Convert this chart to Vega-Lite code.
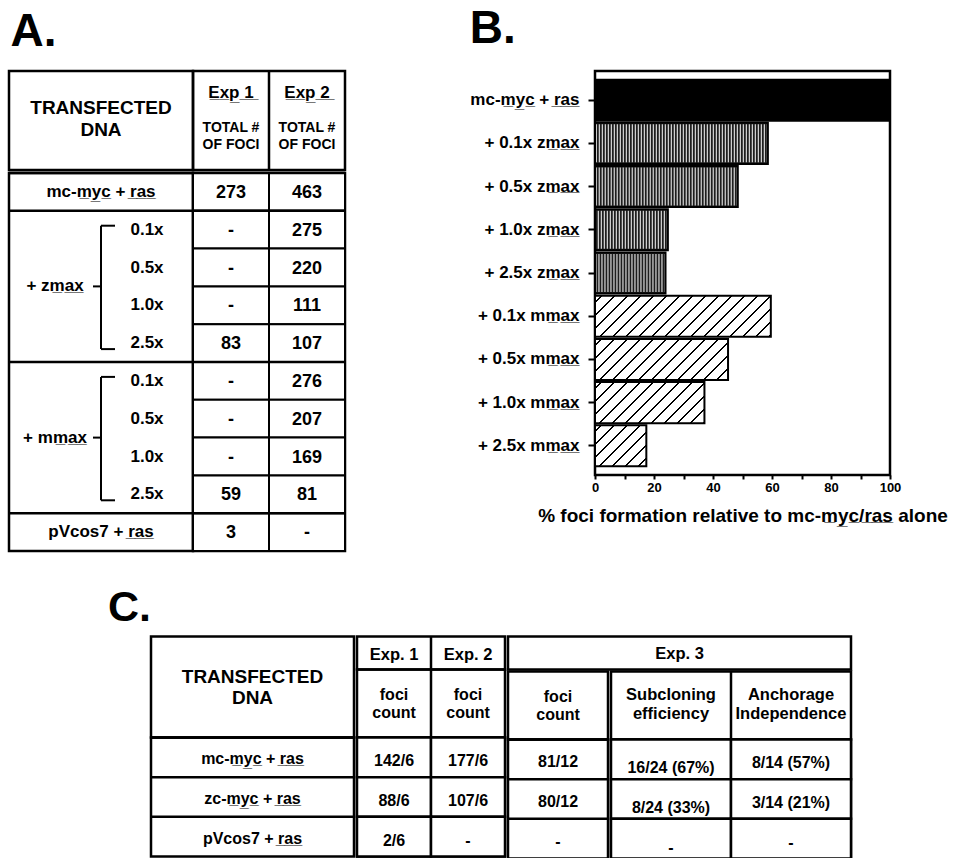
{
 "$schema": "https://vega.github.io/schema/vega-lite/v6.json",
 "background": "white",
 "padding": {"left": 6, "top": 4, "right": 0, "bottom": 0},
 "config": {
  "font": "Liberation Sans",
  "view": {"stroke": "black", "strokeWidth": 2.5},
  "text": {"font": "Liberation Sans", "fontWeight": "bold", "fill": "black", "baseline": "middle"},
  "rule": {"stroke": "black"},
  "title": {"font": "Liberation Sans", "fontWeight": "bold", "anchor": "start", "color": "black", "baseline": "alphabetic"},
  "axis": {"labelFont": "Liberation Sans", "titleFont": "Liberation Sans", "labelColor": "black", "titleColor": "black", "tickColor": "black"}
 },
 "datasets": {
  "panelA": [
   {"row": "mc-myc + ras", "construct": "mc-myc", "label": "mc-m\u0332y\u0332c\u0332 + r\u0332a\u0332s\u0332", "dose": null, "Exp 1": "273", "Exp 2": "463"},
   {"row": "zmax 0.1x", "construct": "zmax", "label": null, "dose": "0.1x", "Exp 1": "-", "Exp 2": "275"},
   {"row": "zmax 0.5x", "construct": "zmax", "label": null, "dose": "0.5x", "Exp 1": "-", "Exp 2": "220"},
   {"row": "zmax 1.0x", "construct": "zmax", "label": null, "dose": "1.0x", "Exp 1": "-", "Exp 2": "111"},
   {"row": "zmax 2.5x", "construct": "zmax", "label": null, "dose": "2.5x", "Exp 1": "83", "Exp 2": "107"},
   {"row": "mmax 0.1x", "construct": "mmax", "label": null, "dose": "0.1x", "Exp 1": "-", "Exp 2": "276"},
   {"row": "mmax 0.5x", "construct": "mmax", "label": null, "dose": "0.5x", "Exp 1": "-", "Exp 2": "207"},
   {"row": "mmax 1.0x", "construct": "mmax", "label": null, "dose": "1.0x", "Exp 1": "-", "Exp 2": "169"},
   {"row": "mmax 2.5x", "construct": "mmax", "label": null, "dose": "2.5x", "Exp 1": "59", "Exp 2": "81"},
   {"row": "pVcos7 + ras", "construct": "pVcos7", "label": "pVcos7 + r\u0332a\u0332s\u0332", "dose": null, "Exp 1": "3", "Exp 2": "-"}
  ],
  "groupsA": [
   {"construct": "zmax", "label": "+ zm\u0332a\u0332x\u0332", "first": "zmax 0.1x", "middle": "zmax 1.0x", "last": "zmax 2.5x"},
   {"construct": "mmax", "label": "+ mm\u0332a\u0332x\u0332", "first": "mmax 0.1x", "middle": "mmax 1.0x", "last": "mmax 2.5x"}
  ],
  "headA": [
   {"exp": "Exp 1", "title": "E\u0332x\u0332p\u0332 \u03321\u0332", "measure": "TOTAL #\nOF FOCI"},
   {"exp": "Exp 2", "title": "E\u0332x\u0332p\u0332 \u03322\u0332", "measure": "TOTAL #\nOF FOCI"}
  ],
  "relativeB": [
   {"treatment": "mc-myc + ras", "label": "mc-m\u0332y\u0332c\u0332 + r\u0332a\u0332s\u0332", "inhibitor": "none", "percent": 100},
   {"treatment": "+ 0.1x zmax", "label": "+ 0.1x zm\u0332a\u0332x\u0332", "inhibitor": "zmax", "percent": 58.6},
   {"treatment": "+ 0.5x zmax", "label": "+ 0.5x zm\u0332a\u0332x\u0332", "inhibitor": "zmax", "percent": 48.4},
   {"treatment": "+ 1.0x zmax", "label": "+ 1.0x zm\u0332a\u0332x\u0332", "inhibitor": "zmax", "percent": 24.7},
   {"treatment": "+ 2.5x zmax", "label": "+ 2.5x zm\u0332a\u0332x\u0332", "inhibitor": "zmax", "percent": 23.9},
   {"treatment": "+ 0.1x mmax", "label": "+ 0.1x mm\u0332a\u0332x\u0332", "inhibitor": "mmax", "percent": 59.6},
   {"treatment": "+ 0.5x mmax", "label": "+ 0.5x mm\u0332a\u0332x\u0332", "inhibitor": "mmax", "percent": 45.1},
   {"treatment": "+ 1.0x mmax", "label": "+ 1.0x mm\u0332a\u0332x\u0332", "inhibitor": "mmax", "percent": 37.1},
   {"treatment": "+ 2.5x mmax", "label": "+ 2.5x mm\u0332a\u0332x\u0332", "inhibitor": "mmax", "percent": 17.4}
  ],
  "panelC": [
   {"construct": "mc-myc + ras", "label": "mc-m\u0332y\u0332c\u0332 + r\u0332a\u0332s\u0332", "exp1": "142/6", "exp2": "177/6", "exp3": "81/12", "subcloning": "16/24 (67%)", "anchorage": "8/14 (57%)"},
   {"construct": "zc-myc + ras", "label": "zc-m\u0332y\u0332c\u0332 + r\u0332a\u0332s\u0332", "exp1": "88/6", "exp2": "107/6", "exp3": "80/12", "subcloning": "8/24 (33%)", "anchorage": "3/14 (21%)"},
   {"construct": "pVcos7 + ras", "label": "pVcos7 + r\u0332a\u0332s\u0332", "exp1": "2/6", "exp2": "-", "exp3": "-", "subcloning": "-", "anchorage": "-"}
  ],
  "headC12": [
   {"exp": "exp1", "title": "Exp. 1", "measure": "foci\ncount"},
   {"exp": "exp2", "title": "Exp. 2", "measure": "foci\ncount"}
  ],
  "headCsa": [
   {"col": "subcloning", "head": "Subcloning\nefficiency"},
   {"col": "anchorage", "head": "Anchorage\nIndependence"}
  ]
 },
 "vconcat": [
  {
   "align": "none",
   "spacing": 120,
   "hconcat": [
    {
     "title": {"text": "A.", "fontSize": 46, "offset": 12.5, "dx": 4},
     "spacing": -7.5,
     "vconcat": [
      {
       "spacing": 0, "bounds": "flush",
       "hconcat": [
        {
         "width": 184, "height": 99,
         "data": {"values": [{"heading": "TRANSFECTED\nDNA"}]},
         "mark": {"type": "text", "fontSize": 19, "lineBreak": "\n", "lineHeight": 22, "dy": -12.5},
         "encoding": {
          "x": {"field": "heading", "type": "nominal", "axis": null, "scale": {"type": "band", "paddingInner": 0, "paddingOuter": 0}},
          "text": {"field": "heading"}}
        },
        {
         "width": 152, "height": 99,
         "data": {"name": "headA"},
         "layer": [
          {"transform": [{"filter": "datum.exp == 'Exp 2'"}],
           "mark": {"type": "rule", "strokeWidth": 2.5},
           "encoding": {"x": {"field": "exp", "type": "nominal", "bandPosition": 0, "axis": null, "scale": {"type": "band", "domain": ["Exp 1", "Exp 2"], "paddingInner": 0, "paddingOuter": 0}}}},
          {"mark": {"type": "text", "fontSize": 17, "dy": -27.5},
           "encoding": {"x": {"field": "exp", "type": "nominal", "axis": null}, "text": {"field": "title"}}},
          {"mark": {"type": "text", "fontSize": 14, "lineBreak": "\n", "lineHeight": 17, "dy": 7.5},
           "encoding": {"x": {"field": "exp", "type": "nominal", "axis": null}, "text": {"field": "measure"}}}
         ]
        }
       ]
      },
      {
       "spacing": 0, "bounds": "flush",
       "hconcat": [
        {
         "width": 184, "height": 378,
         "layer": [
          {"data": {"name": "panelA"},
           "transform": [{"filter": "datum.dose == null || datum.dose == '0.1x'"}],
           "mark": {"type": "rule", "strokeWidth": 2.5},
           "encoding": {"y": {"field": "row", "type": "nominal", "bandPosition": 0, "axis": null, "scale": {"type": "band", "domain": ["mc-myc + ras", "zmax 0.1x", "zmax 0.5x", "zmax 1.0x", "zmax 2.5x", "mmax 0.1x", "mmax 0.5x", "mmax 1.0x", "mmax 2.5x", "pVcos7 + ras"], "paddingInner": 0, "paddingOuter": 0}}}},
          {"data": {"name": "panelA"},
           "transform": [{"filter": "datum.dose == null"}],
           "mark": {"type": "text", "fontSize": 17},
           "encoding": {"y": {"field": "row", "type": "nominal", "axis": null}, "text": {"field": "label"}}},
          {"data": {"name": "panelA"},
           "transform": [{"filter": "datum.dose != null"}],
           "mark": {"type": "text", "fontSize": 17},
           "encoding": {
            "x": {"datum": "dose", "type": "nominal", "axis": null, "scale": {"type": "point", "domain": ["group", "bracket", "dose"], "padding": 1}},
            "y": {"field": "row", "type": "nominal", "axis": null},
            "text": {"field": "dose"}}},
          {"data": {"name": "groupsA"},
           "mark": {"type": "text", "fontSize": 17},
           "encoding": {
            "x": {"datum": "group", "type": "nominal", "axis": null},
            "y": {"field": "middle", "type": "nominal", "bandPosition": 0, "axis": null},
            "text": {"field": "label"}}},
          {"data": {"name": "groupsA"},
           "mark": {"type": "rule", "strokeWidth": 2, "yOffset": -4, "y2Offset": 6},
           "encoding": {
            "x": {"datum": "bracket", "type": "nominal", "axis": null},
            "y": {"field": "first", "type": "nominal", "axis": null},
            "y2": {"field": "last", "bandPosition": 0.5}}},
          {"data": {"name": "groupsA"},
           "mark": {"type": "rule", "strokeWidth": 2, "x2Offset": 14, "yOffset": -4},
           "encoding": {
            "x": {"datum": "bracket", "type": "nominal", "axis": null},
            "x2": {"datum": "bracket"},
            "y": {"field": "first", "type": "nominal", "axis": null}}},
          {"data": {"name": "groupsA"},
           "mark": {"type": "rule", "strokeWidth": 2, "x2Offset": 14, "yOffset": 6},
           "encoding": {
            "x": {"datum": "bracket", "type": "nominal", "axis": null},
            "x2": {"datum": "bracket"},
            "y": {"field": "last", "type": "nominal", "axis": null}}},
          {"data": {"name": "groupsA"},
           "mark": {"type": "rule", "strokeWidth": 2, "xOffset": -8},
           "encoding": {
            "x": {"datum": "bracket", "type": "nominal", "axis": null},
            "x2": {"datum": "bracket"},
            "y": {"field": "middle", "type": "nominal", "bandPosition": 0, "axis": null}}}
         ]
        },
        {
         "width": 152, "height": 378,
         "data": {"name": "panelA"},
         "transform": [{"fold": ["Exp 1", "Exp 2"], "as": ["exp", "foci"]}],
         "layer": [
          {"mark": {"type": "rect", "fill": "white", "stroke": "black", "strokeWidth": 2},
           "encoding": {
            "x": {"field": "exp", "type": "nominal", "axis": null, "scale": {"type": "band", "domain": ["Exp 1", "Exp 2"], "paddingInner": 0, "paddingOuter": 0}},
            "y": {"field": "row", "type": "nominal", "axis": null, "scale": {"type": "band", "domain": ["mc-myc + ras", "zmax 0.1x", "zmax 0.5x", "zmax 1.0x", "zmax 2.5x", "mmax 0.1x", "mmax 0.5x", "mmax 1.0x", "mmax 2.5x", "pVcos7 + ras"], "paddingInner": 0, "paddingOuter": 0}}}},
          {"transform": [{"filter": "datum.exp == 'Exp 1' && (datum.dose == null || datum.dose == '0.1x')"}],
           "mark": {"type": "rule", "strokeWidth": 2.5},
           "encoding": {"y": {"field": "row", "type": "nominal", "bandPosition": 0, "axis": null}}},
          {"mark": {"type": "text", "fontSize": 18, "dy": 1},
           "encoding": {
            "x": {"field": "exp", "type": "nominal", "axis": null},
            "y": {"field": "row", "type": "nominal", "axis": null},
            "text": {"field": "foci"}}}
         ]
        }
       ]
      }
     ]
    },
    {
     "title": {"text": "B.", "fontSize": 46, "offset": 18},
     "width": 295, "height": 404,
     "data": {"name": "relativeB"},
     "encoding": {
      "x": {"field": "percent", "type": "quantitative",
        "scale": {"domain": [0, 100], "nice": false, "zero": true},
        "axis": {"values": [0, 10, 20, 30, 40, 50, 60, 70, 80, 90, 100], "labelExpr": "datum.value % 20 == 0 ? datum.label : ''", "labelFlush": false, "labelOverlap": false, "tickSize": 4, "tickWidth": 2, "labelFontSize": 13, "labelFontWeight": "bold", "labelPadding": 2, "domain": false, "grid": false, "title": "% foci formation relative to mc-m\u0332y\u0332c\u0332/r\u0332a\u0332s\u0332 alone", "titleFontSize": 19, "titleFontWeight": "bold", "titlePadding": 12}},
      "y": {"field": "label", "type": "nominal",
        "scale": {"type": "band", "domain": ["mc-m\u0332y\u0332c\u0332 + r\u0332a\u0332s\u0332", "+ 0.1x zm\u0332a\u0332x\u0332", "+ 0.5x zm\u0332a\u0332x\u0332", "+ 1.0x zm\u0332a\u0332x\u0332", "+ 2.5x zm\u0332a\u0332x\u0332", "+ 0.1x mm\u0332a\u0332x\u0332", "+ 0.5x mm\u0332a\u0332x\u0332", "+ 1.0x mm\u0332a\u0332x\u0332", "+ 2.5x mm\u0332a\u0332x\u0332"], "paddingInner": 0.05, "paddingOuter": 0.2},
        "axis": {"title": null, "labelFontSize": 17, "labelFontWeight": "bold", "labelAlign": "right", "tickSize": 7, "tickWidth": 2, "labelPadding": 9, "domain": false, "labelLimit": 250}}
     },
     "layer": [
      {"mark": {"type": "bar", "fill": "white"}},
      {"transform": [{"filter": "datum.inhibitor == 'none'"}], "mark": {"type": "bar", "fill": "black"}},
      {"transform": [{"filter": "datum.inhibitor == 'zmax'"}], "mark": {"type": "bar", "fill": "#1e1e1e"}},
      {"transform": [{"filter": "datum.inhibitor == 'zmax'"}],
       "mark": {"type": "rule", "stroke": "white", "strokeWidth": 38, "strokeDash": [1.1, 1.9], "strokeCap": "butt", "opacity": 0.9},
       "encoding": {"x2": {"datum": 0}}},
      {"transform": [{"filter": "datum.treatment == '+ 0.1x mmax'"}],
       "mark": {"type": "bar", "fill": {"gradient": "linear", "x1": 0, "y1": 0, "x2": 1.4023, "y2": 0.3274, "stops": [
        {"offset": 0, "color": "white"},
        {"offset": 0.0205, "color": "white"}, {"offset": 0.0205, "color": "black"}, {"offset": 0.0295, "color": "black"}, {"offset": 0.0295, "color": "white"},
        {"offset": 0.0705, "color": "white"}, {"offset": 0.0705, "color": "black"}, {"offset": 0.0795, "color": "black"}, {"offset": 0.0795, "color": "white"},
        {"offset": 0.1205, "color": "white"}, {"offset": 0.1205, "color": "black"}, {"offset": 0.1295, "color": "black"}, {"offset": 0.1295, "color": "white"},
        {"offset": 0.1705, "color": "white"}, {"offset": 0.1705, "color": "black"}, {"offset": 0.1795, "color": "black"}, {"offset": 0.1795, "color": "white"},
        {"offset": 0.2205, "color": "white"}, {"offset": 0.2205, "color": "black"}, {"offset": 0.2295, "color": "black"}, {"offset": 0.2295, "color": "white"},
        {"offset": 0.2705, "color": "white"}, {"offset": 0.2705, "color": "black"}, {"offset": 0.2795, "color": "black"}, {"offset": 0.2795, "color": "white"},
        {"offset": 0.3205, "color": "white"}, {"offset": 0.3205, "color": "black"}, {"offset": 0.3295, "color": "black"}, {"offset": 0.3295, "color": "white"},
        {"offset": 0.3705, "color": "white"}, {"offset": 0.3705, "color": "black"}, {"offset": 0.3795, "color": "black"}, {"offset": 0.3795, "color": "white"},
        {"offset": 0.4205, "color": "white"}, {"offset": 0.4205, "color": "black"}, {"offset": 0.4295, "color": "black"}, {"offset": 0.4295, "color": "white"},
        {"offset": 0.4705, "color": "white"}, {"offset": 0.4705, "color": "black"}, {"offset": 0.4795, "color": "black"}, {"offset": 0.4795, "color": "white"},
        {"offset": 0.5205, "color": "white"}, {"offset": 0.5205, "color": "black"}, {"offset": 0.5295, "color": "black"}, {"offset": 0.5295, "color": "white"},
        {"offset": 0.5705, "color": "white"}, {"offset": 0.5705, "color": "black"}, {"offset": 0.5795, "color": "black"}, {"offset": 0.5795, "color": "white"},
        {"offset": 0.6205, "color": "white"}, {"offset": 0.6205, "color": "black"}, {"offset": 0.6295, "color": "black"}, {"offset": 0.6295, "color": "white"},
        {"offset": 0.6705, "color": "white"}, {"offset": 0.6705, "color": "black"}, {"offset": 0.6795, "color": "black"}, {"offset": 0.6795, "color": "white"},
        {"offset": 0.7205, "color": "white"}, {"offset": 0.7205, "color": "black"}, {"offset": 0.7295, "color": "black"}, {"offset": 0.7295, "color": "white"},
        {"offset": 0.7705, "color": "white"}, {"offset": 0.7705, "color": "black"}, {"offset": 0.7795, "color": "black"}, {"offset": 0.7795, "color": "white"},
        {"offset": 0.8205, "color": "white"}, {"offset": 0.8205, "color": "black"}, {"offset": 0.8295, "color": "black"}, {"offset": 0.8295, "color": "white"},
        {"offset": 1, "color": "white"}]}}},
      {"transform": [{"filter": "datum.treatment == '+ 0.5x mmax'"}],
       "mark": {"type": "bar", "fill": {"gradient": "linear", "x1": 0, "y1": 0, "x2": 1.7843, "y2": 0.5505, "stops": [
        {"offset": 0, "color": "white"},
        {"offset": 0.0205, "color": "white"}, {"offset": 0.0205, "color": "black"}, {"offset": 0.0295, "color": "black"}, {"offset": 0.0295, "color": "white"},
        {"offset": 0.0705, "color": "white"}, {"offset": 0.0705, "color": "black"}, {"offset": 0.0795, "color": "black"}, {"offset": 0.0795, "color": "white"},
        {"offset": 0.1205, "color": "white"}, {"offset": 0.1205, "color": "black"}, {"offset": 0.1295, "color": "black"}, {"offset": 0.1295, "color": "white"},
        {"offset": 0.1705, "color": "white"}, {"offset": 0.1705, "color": "black"}, {"offset": 0.1795, "color": "black"}, {"offset": 0.1795, "color": "white"},
        {"offset": 0.2205, "color": "white"}, {"offset": 0.2205, "color": "black"}, {"offset": 0.2295, "color": "black"}, {"offset": 0.2295, "color": "white"},
        {"offset": 0.2705, "color": "white"}, {"offset": 0.2705, "color": "black"}, {"offset": 0.2795, "color": "black"}, {"offset": 0.2795, "color": "white"},
        {"offset": 0.3205, "color": "white"}, {"offset": 0.3205, "color": "black"}, {"offset": 0.3295, "color": "black"}, {"offset": 0.3295, "color": "white"},
        {"offset": 0.3705, "color": "white"}, {"offset": 0.3705, "color": "black"}, {"offset": 0.3795, "color": "black"}, {"offset": 0.3795, "color": "white"},
        {"offset": 0.4205, "color": "white"}, {"offset": 0.4205, "color": "black"}, {"offset": 0.4295, "color": "black"}, {"offset": 0.4295, "color": "white"},
        {"offset": 0.4705, "color": "white"}, {"offset": 0.4705, "color": "black"}, {"offset": 0.4795, "color": "black"}, {"offset": 0.4795, "color": "white"},
        {"offset": 0.5205, "color": "white"}, {"offset": 0.5205, "color": "black"}, {"offset": 0.5295, "color": "black"}, {"offset": 0.5295, "color": "white"},
        {"offset": 0.5705, "color": "white"}, {"offset": 0.5705, "color": "black"}, {"offset": 0.5795, "color": "black"}, {"offset": 0.5795, "color": "white"},
        {"offset": 0.6205, "color": "white"}, {"offset": 0.6205, "color": "black"}, {"offset": 0.6295, "color": "black"}, {"offset": 0.6295, "color": "white"},
        {"offset": 0.6705, "color": "white"}, {"offset": 0.6705, "color": "black"}, {"offset": 0.6795, "color": "black"}, {"offset": 0.6795, "color": "white"},
        {"offset": 1, "color": "white"}]}}},
      {"transform": [{"filter": "datum.treatment == '+ 1.0x mmax'"}],
       "mark": {"type": "bar", "fill": {"gradient": "linear", "x1": 0, "y1": 0, "x2": 2.0826, "y2": 0.7811, "stops": [
        {"offset": 0, "color": "white"},
        {"offset": 0.0205, "color": "white"}, {"offset": 0.0205, "color": "black"}, {"offset": 0.0295, "color": "black"}, {"offset": 0.0295, "color": "white"},
        {"offset": 0.0705, "color": "white"}, {"offset": 0.0705, "color": "black"}, {"offset": 0.0795, "color": "black"}, {"offset": 0.0795, "color": "white"},
        {"offset": 0.1205, "color": "white"}, {"offset": 0.1205, "color": "black"}, {"offset": 0.1295, "color": "black"}, {"offset": 0.1295, "color": "white"},
        {"offset": 0.1705, "color": "white"}, {"offset": 0.1705, "color": "black"}, {"offset": 0.1795, "color": "black"}, {"offset": 0.1795, "color": "white"},
        {"offset": 0.2205, "color": "white"}, {"offset": 0.2205, "color": "black"}, {"offset": 0.2295, "color": "black"}, {"offset": 0.2295, "color": "white"},
        {"offset": 0.2705, "color": "white"}, {"offset": 0.2705, "color": "black"}, {"offset": 0.2795, "color": "black"}, {"offset": 0.2795, "color": "white"},
        {"offset": 0.3205, "color": "white"}, {"offset": 0.3205, "color": "black"}, {"offset": 0.3295, "color": "black"}, {"offset": 0.3295, "color": "white"},
        {"offset": 0.3705, "color": "white"}, {"offset": 0.3705, "color": "black"}, {"offset": 0.3795, "color": "black"}, {"offset": 0.3795, "color": "white"},
        {"offset": 0.4205, "color": "white"}, {"offset": 0.4205, "color": "black"}, {"offset": 0.4295, "color": "black"}, {"offset": 0.4295, "color": "white"},
        {"offset": 0.4705, "color": "white"}, {"offset": 0.4705, "color": "black"}, {"offset": 0.4795, "color": "black"}, {"offset": 0.4795, "color": "white"},
        {"offset": 0.5205, "color": "white"}, {"offset": 0.5205, "color": "black"}, {"offset": 0.5295, "color": "black"}, {"offset": 0.5295, "color": "white"},
        {"offset": 0.5705, "color": "white"}, {"offset": 0.5705, "color": "black"}, {"offset": 0.5795, "color": "black"}, {"offset": 0.5795, "color": "white"},
        {"offset": 1, "color": "white"}]}}},
      {"transform": [{"filter": "datum.treatment == '+ 2.5x mmax'"}],
       "mark": {"type": "bar", "fill": {"gradient": "linear", "x1": 0, "y1": 0, "x2": 3.0894, "y2": 2.4707, "stops": [
        {"offset": 0, "color": "white"},
        {"offset": 0.0205, "color": "white"}, {"offset": 0.0205, "color": "black"}, {"offset": 0.0295, "color": "black"}, {"offset": 0.0295, "color": "white"},
        {"offset": 0.0705, "color": "white"}, {"offset": 0.0705, "color": "black"}, {"offset": 0.0795, "color": "black"}, {"offset": 0.0795, "color": "white"},
        {"offset": 0.1205, "color": "white"}, {"offset": 0.1205, "color": "black"}, {"offset": 0.1295, "color": "black"}, {"offset": 0.1295, "color": "white"},
        {"offset": 0.1705, "color": "white"}, {"offset": 0.1705, "color": "black"}, {"offset": 0.1795, "color": "black"}, {"offset": 0.1795, "color": "white"},
        {"offset": 0.2205, "color": "white"}, {"offset": 0.2205, "color": "black"}, {"offset": 0.2295, "color": "black"}, {"offset": 0.2295, "color": "white"},
        {"offset": 0.2705, "color": "white"}, {"offset": 0.2705, "color": "black"}, {"offset": 0.2795, "color": "black"}, {"offset": 0.2795, "color": "white"},
        {"offset": 0.3205, "color": "white"}, {"offset": 0.3205, "color": "black"}, {"offset": 0.3295, "color": "black"}, {"offset": 0.3295, "color": "white"},
        {"offset": 1, "color": "white"}]}}},
      {"mark": {"type": "bar", "fill": "transparent", "stroke": "black", "strokeWidth": 2}}
     ]
    }
   ]
  },
  {
   "spacing": -6,
   "hconcat": [
    {
     "title": {"text": "C.", "fontSize": 43, "offset": 7, "dx": 99},
     "width": 136, "height": 220,
     "data": {"values": [{"panel": "C."}]},
     "mark": {"type": "text"},
     "encoding": {}
    },
    {
     "spacing": -11,
     "hconcat": [
      {
       "spacing": -7.5,
       "hconcat": [
        {
         "spacing": 0, "bounds": "flush",
         "vconcat": [
          {
           "width": 203, "height": 101,
           "data": {"values": [{"heading": "TRANSFECTED\nDNA"}]},
           "mark": {"type": "text", "fontSize": 19, "lineBreak": "\n", "lineHeight": 21, "dy": -10.5},
           "encoding": {
            "x": {"field": "heading", "type": "nominal", "axis": null, "scale": {"type": "band", "paddingInner": 0, "paddingOuter": 0}},
            "text": {"field": "heading"}}
          },
          {
           "width": 203, "height": 119,
           "data": {"name": "panelC"},
           "layer": [
            {"mark": {"type": "rule", "strokeWidth": 2.5},
             "encoding": {"y": {"field": "construct", "type": "nominal", "bandPosition": 0, "axis": null, "scale": {"type": "band", "domain": ["mc-myc + ras", "zc-myc + ras", "pVcos7 + ras"], "paddingInner": 0, "paddingOuter": 0}}}},
            {"mark": {"type": "text", "fontSize": 16, "dy": 2},
             "encoding": {"y": {"field": "construct", "type": "nominal", "axis": null}, "text": {"field": "label"}}}
           ]
          }
         ]
        },
        {
         "spacing": 0, "bounds": "flush",
         "vconcat": [
          {
           "width": 148, "height": 33,
           "data": {"name": "headC12"},
           "layer": [
            {"transform": [{"filter": "datum.exp == 'exp2'"}],
             "mark": {"type": "rule", "strokeWidth": 2.5},
             "encoding": {"x": {"field": "exp", "type": "nominal", "bandPosition": 0, "axis": null, "scale": {"type": "band", "domain": ["exp1", "exp2"], "paddingInner": 0, "paddingOuter": 0}}}},
            {"mark": {"type": "text", "fontSize": 16.5, "dy": 2},
             "encoding": {"x": {"field": "exp", "type": "nominal", "axis": null}, "text": {"field": "title"}}}
           ]
          },
          {
           "width": 148, "height": 68,
           "data": {"name": "headC12"},
           "layer": [
            {"transform": [{"filter": "datum.exp == 'exp2'"}],
             "mark": {"type": "rule", "strokeWidth": 2.5},
             "encoding": {"x": {"field": "exp", "type": "nominal", "bandPosition": 0, "axis": null, "scale": {"type": "band", "domain": ["exp1", "exp2"], "paddingInner": 0, "paddingOuter": 0}}}},
            {"mark": {"type": "text", "fontSize": 16, "lineBreak": "\n", "lineHeight": 18, "dy": -9},
             "encoding": {"x": {"field": "exp", "type": "nominal", "axis": null}, "text": {"field": "measure"}}}
           ]
          },
          {
           "width": 148, "height": 119,
           "data": {"name": "panelC"},
           "transform": [{"fold": ["exp1", "exp2"], "as": ["exp", "count"]}],
           "layer": [
            {"mark": {"type": "rect", "fill": "white", "stroke": "black", "strokeWidth": 2.5},
             "encoding": {
              "x": {"field": "exp", "type": "nominal", "axis": null, "scale": {"type": "band", "domain": ["exp1", "exp2"], "paddingInner": 0, "paddingOuter": 0}},
              "y": {"field": "construct", "type": "nominal", "axis": null, "scale": {"type": "band", "domain": ["mc-myc + ras", "zc-myc + ras", "pVcos7 + ras"], "paddingInner": 0, "paddingOuter": 0}}}},
            {"mark": {"type": "text", "fontSize": 16, "dy": 4},
             "encoding": {
              "x": {"field": "exp", "type": "nominal", "axis": null},
              "y": {"field": "construct", "type": "nominal", "axis": null},
              "text": {"field": "count"}}}
           ]
          }
         ]
        }
       ]
      },
      {
       "spacing": -12,
       "vconcat": [
        {
         "width": 343, "height": 33,
         "data": {"values": [{"experiment": "Exp. 3"}]},
         "mark": {"type": "text", "fontSize": 16.5, "dy": 1},
         "encoding": {
          "x": {"field": "experiment", "type": "nominal", "axis": null, "scale": {"type": "band", "paddingInner": 0, "paddingOuter": 0}},
          "text": {"field": "experiment"}}
        },
        {
         "spacing": -7.5,
         "hconcat": [
          {
           "spacing": 0, "bounds": "flush",
           "vconcat": [
            {
             "width": 100, "height": 68,
             "data": {"values": [{"measure": "foci\ncount"}]},
             "mark": {"type": "text", "fontSize": 16, "lineBreak": "\n", "lineHeight": 18, "dy": -9},
             "encoding": {
              "x": {"field": "measure", "type": "nominal", "axis": null, "scale": {"type": "band", "paddingInner": 0, "paddingOuter": 0}},
              "text": {"field": "measure"}}
            },
            {
             "width": 100, "height": 119,
             "data": {"name": "panelC"},
             "layer": [
              {"mark": {"type": "rule", "strokeWidth": 2.5},
               "encoding": {"y": {"field": "construct", "type": "nominal", "bandPosition": 0, "axis": null, "scale": {"type": "band", "domain": ["mc-myc + ras", "zc-myc + ras", "pVcos7 + ras"], "paddingInner": 0, "paddingOuter": 0}}}},
              {"mark": {"type": "text", "fontSize": 16, "dy": 3},
               "encoding": {"y": {"field": "construct", "type": "nominal", "axis": null}, "text": {"field": "exp3"}}}
             ]
            }
           ]
          },
          {
           "spacing": 0, "bounds": "flush",
           "vconcat": [
            {
             "width": 240, "height": 68,
             "data": {"name": "headCsa"},
             "layer": [
              {"transform": [{"filter": "datum.col == 'anchorage'"}],
               "mark": {"type": "rule", "strokeWidth": 2.5},
               "encoding": {"x": {"field": "col", "type": "nominal", "bandPosition": 0, "axis": null, "scale": {"type": "band", "domain": ["subcloning", "anchorage"], "paddingInner": 0, "paddingOuter": 0}}}},
              {"mark": {"type": "text", "fontSize": 16.5, "lineBreak": "\n", "lineHeight": 19, "dy": -11},
               "encoding": {"x": {"field": "col", "type": "nominal", "axis": null}, "text": {"field": "head"}}}
             ]
            },
            {
             "width": 240, "height": 119,
             "data": {"name": "panelC"},
             "transform": [{"fold": ["subcloning", "anchorage"], "as": ["col", "result"]}],
             "layer": [
              {"mark": {"type": "rect", "fill": "white", "stroke": "black", "strokeWidth": 2.5},
               "encoding": {
                "x": {"field": "col", "type": "nominal", "axis": null, "scale": {"type": "band", "domain": ["subcloning", "anchorage"], "paddingInner": 0, "paddingOuter": 0}},
                "y": {"field": "construct", "type": "nominal", "axis": null, "scale": {"type": "band", "domain": ["mc-myc + ras", "zc-myc + ras", "pVcos7 + ras"], "paddingInner": 0, "paddingOuter": 0}}}},
              {"transform": [{"filter": "datum.col == 'subcloning'"}],
               "mark": {"type": "text", "fontSize": 16, "dy": 9},
               "encoding": {
                "x": {"field": "col", "type": "nominal", "axis": null},
                "y": {"field": "construct", "type": "nominal", "axis": null},
                "text": {"field": "result"}}},
              {"transform": [{"filter": "datum.col == 'anchorage'"}],
               "mark": {"type": "text", "fontSize": 16, "dy": 4},
               "encoding": {
                "x": {"field": "col", "type": "nominal", "axis": null},
                "y": {"field": "construct", "type": "nominal", "axis": null},
                "text": {"field": "result"}}}
             ]
            }
           ]
          }
         ]
        }
       ]
      }
     ]
    }
   ]
  }
 ],
 "spacing": 32.5
}
